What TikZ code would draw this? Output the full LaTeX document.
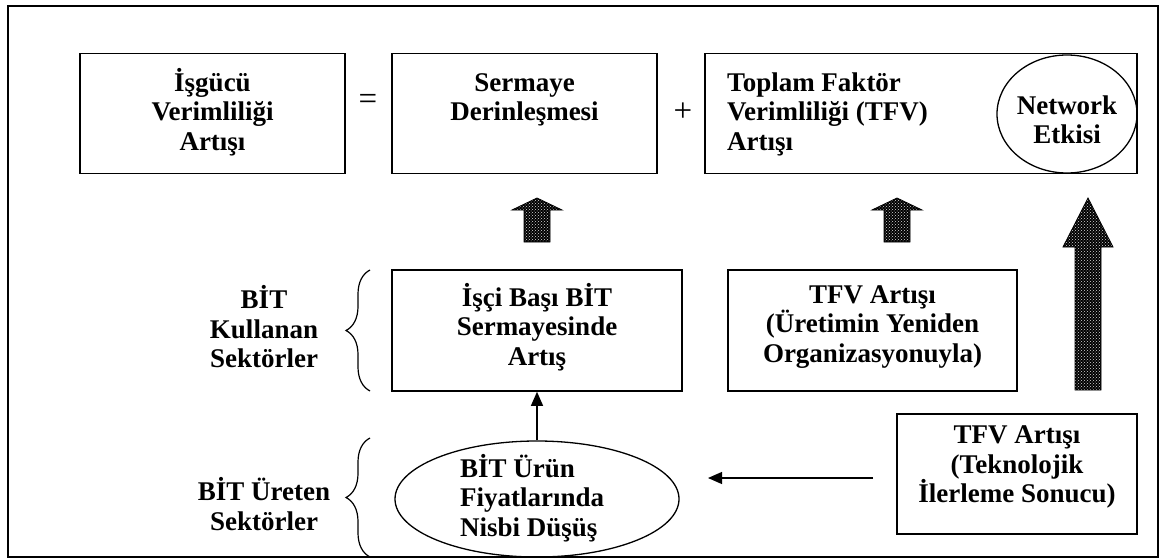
\documentclass[tikz,border=0pt]{standalone}
\usepackage{fontspec}
\setmainfont{Liberation Serif}
\usetikzlibrary{arrows.meta,shapes.geometric,decorations.pathreplacing,patterns}
\begin{document}
\begin{tikzpicture}[x=1pt,y=-1pt,
  box/.style={draw, line width=1.6pt, inner sep=0pt},
  oval/.style={draw, ellipse, line width=1.3pt, inner sep=0pt},
  txt/.style={font=\fontsize{27}{29.5}\selectfont\bfseries, align=center, inner sep=0pt},
  sign/.style={font=\fontsize{33}{33}\selectfont, inner sep=0pt},
  blockarrow/.style={draw=black, line width=0.8pt, preaction={fill=black}, pattern=crosshatch dots, pattern color=white!85!black},
  thinarrow/.style={line width=1.2pt, -{Triangle[length=14pt,width=12pt]}},
  bracestyle/.style={line width=1.2pt, decorate, decoration={brace, amplitude=24pt}}
]
\useasboundingbox (0,0) rectangle (1161,559);
\node[box, minimum width=1150pt, minimum height=551pt] (frame) at (583,281.5) {};
% top row
\node[box, minimum width=265pt, minimum height=120pt] (b1) at (212.5,113.5) {};
\node[box, minimum width=265pt, minimum height=120pt] (b2) at (524.5,113.5) {};
\node[box, minimum width=432pt, minimum height=120pt] (b3) at (921,113.5) {};
\node[oval, minimum width=140pt, minimum height=118pt] (net) at (1067,114) {};
\node[txt] (b1t) at (212.5,112) {İşgücü\\Verimliliği\\Artışı};
\node[txt] (b2t) at (524.5,100) {Sermaye\\Derinleşmesi};
\node[txt, align=left, anchor=west] (b3t) at (727,114) {Toplam Faktör\\Verimliliği (TFV)\\Artışı};
\node[txt] (nett) at (1067,120) {Network\\Etkisi};
\node[sign] (eq) at (368,102) {=};
\node[sign] (plus) at (683,112) {+};
% block arrows
\path[blockarrow] (524,242) -- (524,210) -- (512,210) -- (537,198) -- (562,210) -- (550,210) -- (550,242) -- cycle;
\path[blockarrow] (884,242) -- (884,210) -- (872,210) -- (897,198) -- (922,210) -- (910,210) -- (910,242) -- cycle;
\path[blockarrow] (1075,390) -- (1075,247) -- (1063,247) -- (1088,198) -- (1113,247) -- (1101,247) -- (1101,390) -- cycle;
% middle row
\node[box, minimum width=290pt, minimum height=121pt] (m1) at (537,330.5) {};
\node[box, minimum width=289pt, minimum height=121pt] (m2) at (872.5,330.5) {};
\node[txt] (m1t) at (537,327) {İşçi Başı BİT\\Sermayesinde\\Artış};
\node[txt] (m2t) at (872.5,327) {TFV Artışı\\(Üretimin Yeniden\\Organizasyonuyla)};
% bottom row
\node[box, minimum width=240pt, minimum height=120pt] (b4) at (1017,474) {};
\node[txt] (b4t) at (1017,467) {TFV Artışı\\(Teknolojik\\İlerleme Sonucu)};
\node[oval, minimum width=284pt, minimum height=116pt] (e1) at (537,499) {};
\node[txt, align=left, anchor=west] (e1t) at (460,498) {BİT Ürün\\Fiyatlarında\\Nisbi Düşüş};
% left labels
\node[txt] (l1) at (264,327) {BİT\\Kullanan\\Sektörler};
\node[txt] (l2) at (264,504) {BİT Üreten\\Sektörler};
\draw[bracestyle] (370,391) -- (370,270);
\draw[bracestyle] (370,557) -- (370,438);
% connectors
\draw[thinarrow] (e1.north) -- (m1.south);
\coordinate (hs) at (873,478);
\coordinate (he) at (708,478);
\draw[thinarrow] (hs) -- (he);
\end{tikzpicture}
\end{document}
